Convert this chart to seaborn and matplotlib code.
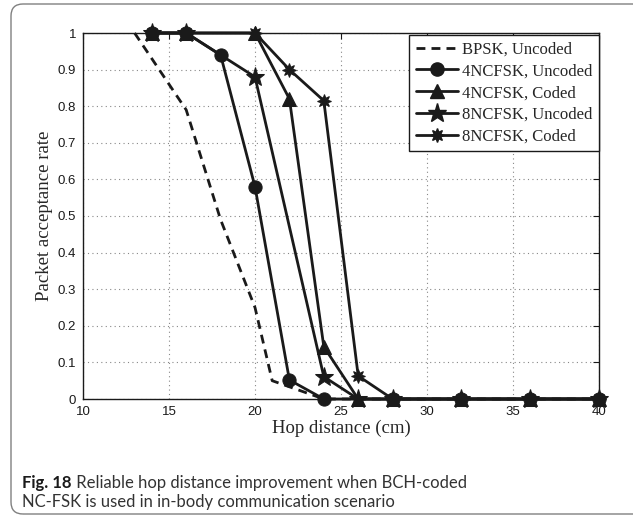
import numpy as np
import pandas as pd
import seaborn as sns
import matplotlib
matplotlib.use("Agg")
import matplotlib.pyplot as plt
from matplotlib.patches import FancyBboxPatch
from matplotlib.lines import Line2D

# ---- data ----
series_names = ["BPSK, Uncoded", "4NCFSK, Uncoded", "4NCFSK, Coded",
                "8NCFSK, Uncoded", "8NCFSK, Coded"]

bpsk_x = [13, 16, 18, 20, 21, 24, 28, 32, 36, 40]
bpsk_y = [1.0, 0.79, 0.49, 0.25, 0.05, 0.0, 0.0, 0.0, 0.0, 0.0]

ncfsk4_unc_x = [14, 16, 18, 20, 22, 24, 28, 32, 36, 40]
ncfsk4_unc_y = [1.0, 1.0, 0.94, 0.58, 0.052, 0.0, 0.0, 0.0, 0.0, 0.0]

ncfsk4_cod_x = [14, 16, 20, 22, 24, 26, 28, 32, 36, 40]
ncfsk4_cod_y = [1.0, 1.0, 1.0, 0.82, 0.143, 0.0, 0.0, 0.0, 0.0, 0.0]

ncfsk8_unc_x = [14, 16, 20, 24, 26, 28, 32, 36, 40]
ncfsk8_unc_y = [1.0, 1.0, 0.88, 0.061, 0.0, 0.0, 0.0, 0.0, 0.0]

ncfsk8_cod_x = [14, 16, 20, 22, 24, 26, 28, 32, 36, 40]
ncfsk8_cod_y = [1.0, 1.0, 1.0, 0.9, 0.815, 0.063, 0.0, 0.0, 0.0, 0.0]

x_ticks = [10, 15, 20, 25, 30, 35, 40]
y_ticks = [0, 0.1, 0.2, 0.3, 0.4, 0.5, 0.6, 0.7, 0.8, 0.9, 1]
y_ticklabels = ["0", "0.1", "0.2", "0.3", "0.4", "0.5", "0.6", "0.7", "0.8", "0.9", "1"]

xlabel = "Hop distance (cm)"
ylabel = "Packet acceptance rate"
caption_bold = "Fig. 18"
caption_line1 = " Reliable hop distance improvement when BCH-coded"
caption_line2 = "NC-FSK is used in in-body communication scenario"

# ---- plot ----
sns.set_style("white")
plt.rcParams["font.family"] = ["Liberation Sans", "DejaVu Sans"]

W, H = 633, 516
fig = plt.figure(figsize=(W / 100, H / 100), dpi=100)
ax = fig.add_axes([83 / W, 1 - 399 / H, (599 - 83) / W, (399 - 33) / H])

all_x = [bpsk_x, ncfsk4_unc_x, ncfsk4_cod_x, ncfsk8_unc_x, ncfsk8_cod_x]
all_y = [bpsk_y, ncfsk4_unc_y, ncfsk4_cod_y, ncfsk8_unc_y, ncfsk8_cod_y]
markers = [None, "o", "^", "*", (8, 1, 0)]
msizes = [0, 9.5, 10, 14, 10]
styles = [(0, (3.2, 2.2)), "-", "-", "-", "-"]

for name, xs, ys, mk, ms, ls in zip(series_names, all_x, all_y, markers, msizes, styles):
    df = pd.DataFrame({"x": xs, "y": ys})
    kw = dict(data=df, x="x", y="y", ax=ax, color="#1a1a1a", linewidth=2.0,
              linestyle=ls, clip_on=False, label=name, estimator=None, sort=False)
    if mk is not None:
        kw.update(marker=mk, markersize=ms, markeredgecolor="#1a1a1a",
                  markerfacecolor="#1a1a1a")
    sns.lineplot(**kw)

ax.set_xlim(10, 40)
ax.set_ylim(0, 1)
ax.set_xticks(x_ticks)
ax.set_yticks(y_ticks)
ax.set_yticklabels(y_ticklabels)
ax.tick_params(direction="in", top=True, right=True, length=4, width=0.8,
               labelsize=9.5, colors="#1a1a1a")
ax.tick_params(axis="x", pad=5)
ax.tick_params(axis="y", pad=5)
for s in ax.spines.values():
    s.set_linewidth(1.0)
    s.set_color("#1a1a1a")
ax.grid(True, linestyle=(0, (1, 3)), color="#888888", linewidth=0.8)
ax.set_axisbelow(True)

serif = ["Liberation Serif", "DejaVu Serif"]
ax.set_xlabel(xlabel, family=serif, fontsize=13.5, labelpad=1)
ax.set_ylabel(ylabel, family=serif, fontsize=13.5, labelpad=3)

handles = []
for name, mk, ms, ls in zip(series_names, markers, msizes, styles):
    handles.append(Line2D([], [], color="#1a1a1a", linewidth=2.0, linestyle=ls,
                          marker=mk if mk is not None else None,
                          markersize=ms, markerfacecolor="#1a1a1a",
                          markeredgecolor="#1a1a1a"))
leg = ax.legend(handles, series_names, loc="upper right", bbox_to_anchor=(1.0, 0.995),
                borderaxespad=0.0, fancybox=False, edgecolor="#1a1a1a",
                framealpha=1, handlelength=2.5, handletextpad=0.25,
                labelspacing=0.35, borderpad=0.4,
                prop={"family": serif, "size": 12})
leg.get_frame().set_linewidth(1.0)

# outer rounded frame (display pixels)
frame = FancyBboxPatch((11, 2), 634, 510, boxstyle="round,pad=0,rounding_size=12",
                       transform=None, fill=False, edgecolor="#808080",
                       linewidth=1.0)
fig.patches.append(frame)

cap_font = ["Lato", "DejaVu Sans"]
t1 = fig.text(22 / W, 1 - 483 / H, caption_bold, family=cap_font, fontsize=12,
              weight="bold", va="center", ha="left", color="#1a1a1a")
fig.canvas.draw()
bb = t1.get_window_extent()
fig.text(bb.x1 / W, 1 - 483 / H, caption_line1, family=cap_font, fontsize=12,
         weight="normal", va="center", ha="left", color="#333333")
fig.text(22 / W, 1 - 502 / H, caption_line2, family=cap_font, fontsize=12,
         weight="normal", va="center", ha="left", color="#333333")

fig.savefig("out.png", dpi=100)
